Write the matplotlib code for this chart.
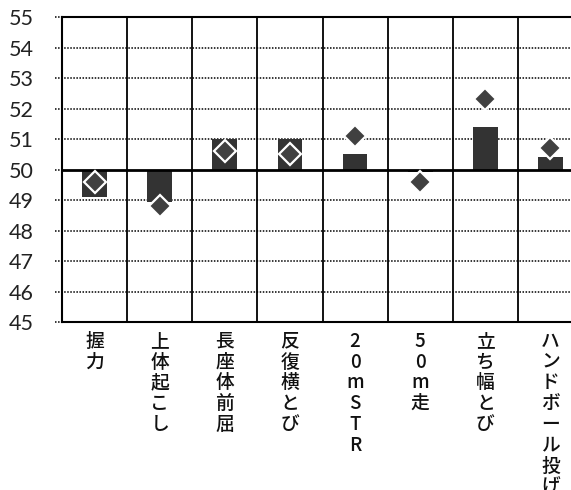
import numpy as np
import matplotlib
matplotlib.use('Agg')
from matplotlib import pyplot as plt

plt.rcParams['font.family'] = ['Noto Sans CJK JP', 'DejaVu Sans']

# test items and scores (T-score style, centred at 50)
items = ['握力', '上体起こし', '長座体前屈', '反復横とび',
         '20mSTR', '50m走', '立ち幅とび', 'ハンドボール投げ']
bar_vals = [49.1, 48.95, 51.0, 51.0, 50.5, 49.93, 51.4, 50.4]
point_vals = [49.6, 48.8, 50.6, 50.5, 51.1, 49.6, 52.3, 50.7]
yticks = list(range(45, 56))

x = np.arange(len(items))

fig = plt.figure(figsize=(5.71, 4.90), dpi=100)
ax = fig.add_axes([62/571, 1-322/490, 521/571, 305/490])

# dotted horizontal grid, pushed a little left of the axis
for y in yticks:
    xmax = 0 if y in (45, 50, 55) else 1
    ax.axhline(y, xmin=-0.014, xmax=xmax, color='black', lw=1.1,
               ls=(0, (1, 1)), clip_on=False, zorder=1)

# column separators
for b in np.arange(-0.5, len(items), 1.0):
    ax.axvline(b, color='black', lw=1.3, zorder=2)

ax.bar(x, np.array(bar_vals) - 50, bottom=50, width=0.38,
       color='#333333', zorder=3)
ax.axhline(50, color='black', lw=2.0, zorder=4)
ax.plot(x, point_vals, 'D', ms=11.5, mfc='#404040', mec='white',
        mew=1.6, zorder=5)

ax.set_xlim(-0.5, len(items) - 0.5)
ax.set_ylim(45, 55)
ax.set_yticks(yticks)
ax.set_yticklabels([str(v) for v in yticks], fontsize=15.5,
                   family=['Lato', 'DejaVu Sans'], color='#222222')
ax.tick_params(axis='y', length=0, pad=20.5)

ax.set_xticks(x)
ax.set_xticklabels(['\n'.join(s) for s in items], fontsize=13.5,
                   linespacing=1.12, va='top', color='#111111',
                   fontweight='medium')
ax.tick_params(axis='x', length=0, pad=7)

for side in ['left', 'top', 'bottom']:
    ax.spines[side].set_linewidth(1.5)
ax.spines['right'].set_visible(False)

fig.savefig('out.png', dpi=100)
